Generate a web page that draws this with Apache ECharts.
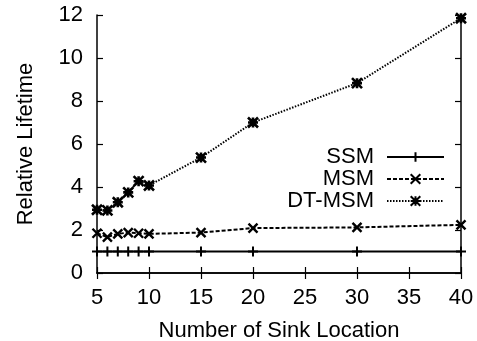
<!DOCTYPE html>
<html>
<head>
<meta charset="utf-8">
<script src="https://cdn.jsdelivr.net/npm/echarts@6/dist/echarts.min.js"></script>
<style>
    html, body { margin: 0; padding: 0; background: #fff; }
    #chart { width: 477px; height: 341px; }
</style>
</head>
<body>
<div id="chart"></div>
<script>
// 数据
var sinkCounts = [5, 6, 7, 8, 9, 10, 15, 20, 30, 40];
var ssmValues = [1, 1, 1, 1, 1, 1, 1, 1, 1, 1];
var msmValues = [1.85, 1.67, 1.82, 1.88, 1.85, 1.82, 1.88, 2.09, 2.12, 2.24];
var dtMsmValues = [2.94, 2.91, 3.29, 3.75, 4.27, 4.07, 5.37, 7.0, 8.83, 11.85];
var xTicks = [5, 10, 15, 20, 25, 30, 35, 40];
var yTicks = [0, 2, 4, 6, 8, 10, 12];

var font = 'Liberation Sans, Arial, sans-serif';
var plusPath = 'path://M5,0L5,10M0,5L10,5';
var crossPath = 'path://M0,0L10,10M10,0L0,10';
var starPath = 'path://M0,0L10,10M10,0L0,10M5,0L5,10M0,5L10,5M2,5L8,5M5,2L5,8';

function pairs(ys) {
    var out = [];
    for (var i = 0; i < sinkCounts.length; i++) {
        out.push([sinkCounts[i], ys[i]]);
    }
    return out;
}

var chart = echarts.init(document.getElementById('chart'), null, { renderer: 'canvas' });

var axisLine = { show: true, lineStyle: { color: '#000', width: 1.5 } };
var tick = { show: true, inside: true, length: 6, lineStyle: { color: '#000', width: 1.2 } };
var option = {
    animation: false,
    backgroundColor: '#fff',
    textStyle: { fontFamily: font },
    grid: { left: 97, right: 16, top: 15, bottom: 68, containLabel: false, outerBoundsMode: 'none' },
    xAxis: [{
        type: 'value',
        min: 5, max: 40, interval: 5,
        name: 'Number of Sink Location',
        nameLocation: 'middle',
        nameGap: 47,
        nameTextStyle: { fontSize: 22, color: '#000', fontFamily: font },
        axisLine: axisLine,
        axisTick: tick,
        axisLabel: { fontSize: 22, color: '#000', margin: 14, fontFamily: font,
            formatter: function (v) { return xTicks.indexOf(v) >= 0 ? String(v) : ''; } },
        splitLine: { show: false }
    }, {
        type: 'value', position: 'top',
        min: 5, max: 40, interval: 5,
        axisLine: axisLine,
        axisTick: tick,
        axisLabel: { show: false },
        splitLine: { show: false }
    }],
    yAxis: [{
        type: 'value',
        min: 0, max: 12, interval: 2,
        name: 'Relative Lifetime',
        nameLocation: 'middle',
        nameGap: 60,
        nameTextStyle: { fontSize: 22, color: '#000', fontFamily: font },
        axisLine: axisLine,
        axisTick: tick,
        axisLabel: { fontSize: 22, color: '#000', margin: 14, fontFamily: font,
            formatter: function (v) { return yTicks.indexOf(v) >= 0 ? String(v) : ''; } },
        splitLine: { show: false }
    }, {
        type: 'value', position: 'right',
        min: 0, max: 12, interval: 2,
        axisLine: axisLine,
        axisTick: tick,
        axisLabel: { show: false },
        splitLine: { show: false }
    }],
    legend: {
        orient: 'vertical',
        align: 'right',
        right: 32,
        top: 146,
        padding: 0,
        itemWidth: 57,
        itemHeight: 12,
        itemGap: 0,
        textStyle: { fontSize: 22, color: '#000', fontFamily: font, padding: [0, 8, 0, 0] },
        data: ['SSM', 'MSM', 'DT-MSM']
    },
    series: [{
        name: 'SSM',
        type: 'line',
        data: pairs(ssmValues),
        symbol: plusPath,
        symbolSize: 10,
        showAllSymbol: true,
        lineStyle: { color: '#000', width: 2.2, type: 'solid' },
        itemStyle: { color: '#000', borderColor: '#000', borderWidth: 2 },
        z: 3
    }, {
        name: 'MSM',
        type: 'line',
        data: pairs(msmValues),
        symbol: crossPath,
        symbolSize: 9,
        showAllSymbol: true,
        lineStyle: { color: '#000', width: 2, type: [4, 2] },
        itemStyle: { color: '#000', borderColor: '#000', borderWidth: 2.4 },
        z: 3
    }, {
        name: 'DT-MSM',
        type: 'line',
        data: pairs(dtMsmValues),
        symbol: starPath,
        symbolSize: 10,
        showAllSymbol: true,
        lineStyle: { color: '#000', width: 2, type: [1.5, 1.5] },
        itemStyle: { color: '#000', borderColor: '#000', borderWidth: 2.6 },
        z: 3
    }]
};
chart.setOption(option);
</script>
</body>
</html>
